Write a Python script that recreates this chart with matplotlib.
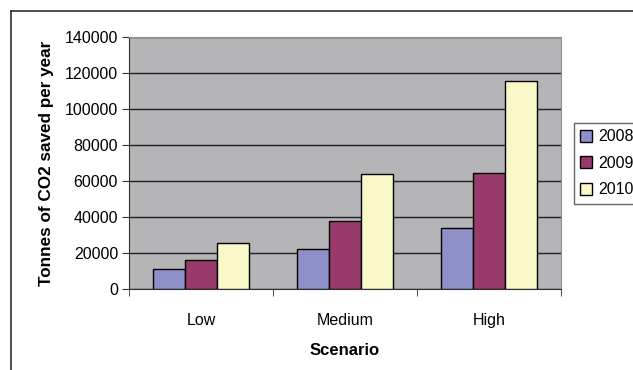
import matplotlib.pyplot as plt
import numpy as np
from matplotlib.lines import Line2D

scenarios = ['Low', 'Medium', 'High']
years = ['2008', '2009', '2010']
saved_2008 = [11000, 22000, 34000]
saved_2009 = [16000, 38000, 64500]
saved_2010 = [25500, 64000, 115500]

colors = ['#8E90C8', '#983A6C', '#FAF7C8']

plt.rcParams['font.family'] = ['Liberation Sans', 'DejaVu Sans']

fig = plt.figure(figsize=(6.33, 3.70), dpi=100)
ax = fig.add_axes([0.204, 0.219, 0.682, 0.681])
ax.set_facecolor('#B5B5B8')

x = np.arange(len(scenarios))
width = 0.222
for i, (vals, year) in enumerate(zip([saved_2008, saved_2009, saved_2010], years)):
    ax.bar(x + (i - 1) * width, vals, width, color=colors[i], edgecolor='black',
           linewidth=1.0, label=year, zorder=3)

ax.set_xlim(-0.5, 2.5)
ax.set_ylim(0, 140000)
ax.set_yticks(range(0, 140001, 20000))
ax.yaxis.grid(True, color='#202020', linewidth=1.0, zorder=1)
ax.set_axisbelow(True)

ax.set_xticks(x)
ax.set_xticklabels(scenarios)
ax.set_xticks([-0.5, 0.5, 1.5, 2.5], minor=True)
ax.tick_params(axis='x', which='major', length=0, pad=17, labelsize=11.5)
ax.tick_params(axis='x', which='minor', length=5, direction='out', color='#303030')
ax.tick_params(axis='y', length=5, direction='out', color='#303030', labelsize=11.5, pad=3)

for side in ['top', 'right']:
    ax.spines[side].set_color('#909090')
ax.spines['left'].set_color('#303030')
ax.spines['bottom'].set_color('#303030')

ax.set_xlabel('Scenario', fontweight='bold', fontsize=12, labelpad=11)
ax.set_ylabel('Tonnes of CO2 saved per year', fontweight='bold', fontsize=12.3, labelpad=8)

leg = ax.legend(loc='upper left', bbox_to_anchor=(574 / 633, 1 - 123 / 370),
                bbox_transform=fig.transFigure, frameon=True, fancybox=False,
                fontsize=11.5, handlelength=0.75, handleheight=0.75,
                handletextpad=0.35, borderpad=0.4, labelspacing=0.72,
                borderaxespad=0)
leg.get_frame().set_edgecolor('#404040')
leg.get_frame().set_linewidth(1.0)

# outer chart border
fig.add_artist(Line2D([11 / 633, 11 / 633], [0, 1 - 11 / 370], color='#303030', linewidth=1.2))
fig.add_artist(Line2D([11 / 633, 1], [1 - 11 / 370, 1 - 11 / 370], color='#303030', linewidth=1.2))

fig.savefig('out.png', dpi=100)
